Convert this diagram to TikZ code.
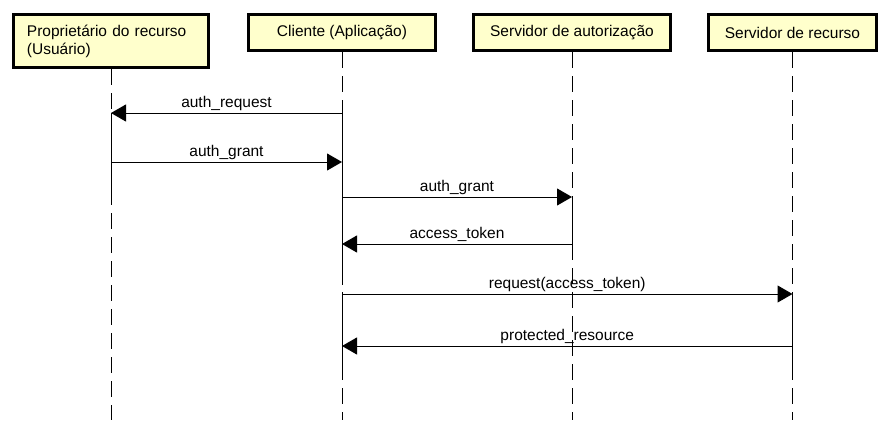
\documentclass[tikz,border=0pt]{standalone}
\usepackage{fontspec}
\setmainfont{Liberation Sans}
\usepackage{xcolor}
\usetikzlibrary{calc,
	positioning,
	arrows.meta}
\definecolor{boxfill}{RGB}{255,255,204}
\tikzstyle{act}=[draw, line width=3pt, fill=boxfill, inner sep=0,
		font=\fontsize{15.5}{18}\selectfont]
\tikzstyle{life}=[line width=1pt, dash pattern=on 16pt off 8pt]
\tikzstyle{run}=[line width=1pt]
\tikzstyle{msg}=[line width=1pt, -{Triangle[length=15pt,width=17pt]}]
\tikzstyle{lbl}=[above, inner sep=1.5pt, font=\fontsize{15.5}{18}\selectfont]

\begin{document}
\begin{tikzpicture}[x=1pt,y=-1pt]
                \useasboundingbox (0,0) rectangle (892,440);
                % participantes
                \node[act, minimum width=195pt, minimum height=53pt, text width=168pt, align=left] (owner) at (111,41) {Propriet\'ario do recurso\\(Usu\'ario)};
                \node[act, minimum width=187pt, minimum height=36pt] (client) at (342,32.5) {Cliente (Aplica\c{c}\~ao)};
                \node[act, minimum width=197pt, minimum height=36pt] (authsrv) at (572,32.5) {Servidor de autoriza\c{c}\~ao};
                \node[act, minimum width=168pt, minimum height=36pt] (ressrv) at (792.5,32.5) {Servidor de recurso};
                % linhas de vida
                \coordinate (owner end) at (owner |- 0,420);
                \coordinate (client end) at (client |- 0,420);
                \coordinate (authsrv end) at (authsrv |- 0,420);
                \coordinate (ressrv end) at (ressrv |- 0,420);
                \draw[life] (owner.south) -- (owner end);
                \draw[life] (client.south) -- (client end);
                \draw[life] (authsrv.south) -- (authsrv end);
                \draw[life] (ressrv.south) -- (ressrv end);
                \draw[run] (owner |- 0,113) -- (owner |- 0,205);
                \draw[run] (client |- 0,113) -- (client |- 0,285);
                \draw[run] (client |- 0,294) -- (client |- 0,365);
                \draw[run] (authsrv |- 0,197) -- (authsrv |- 0,250);
                \draw[run] (ressrv |- 0,294) -- (ressrv |- 0,365);
                % mensagens
                \draw[msg] (client |- 0,113) -- node[lbl] {auth\_request} (owner |- 0,113);
                \draw[msg] (owner |- 0,162) -- node[lbl] {auth\_grant} (client |- 0,162);
                \draw[msg] (client |- 0,197) -- node[lbl] {auth\_grant} (authsrv |- 0,197);
                \draw[msg] (authsrv |- 0,244) -- node[lbl] {access\_token} (client |- 0,244);
                \draw[msg] (client |- 0,294) -- node[lbl] {request(access\_token)} (ressrv |- 0,294);
                \draw[msg] (ressrv |- 0,346) -- node[lbl] {protected\_resource} (client |- 0,346);
            \end{tikzpicture}
\end{document}
